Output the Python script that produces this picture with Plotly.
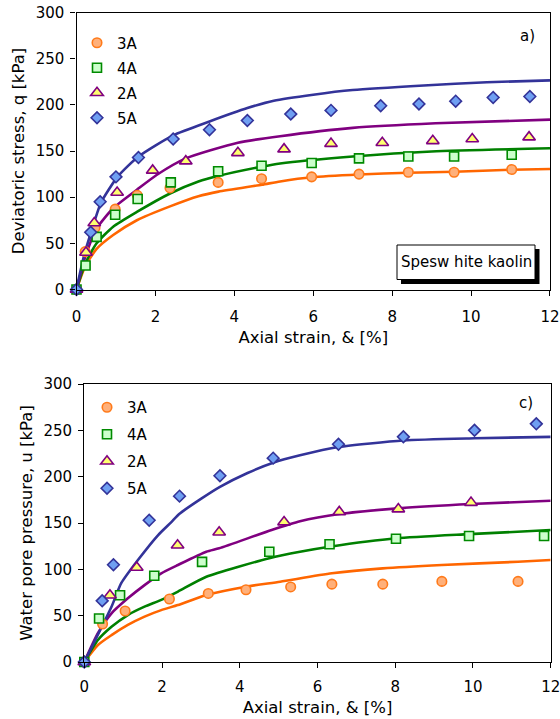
import plotly.graph_objects as go

W, H = 560, 719

# ---------------- Panel a) deviatoric stress ----------------
# fitted / test curves (lines)
qa_line_x_3A = [0, 0.22, 0.51, 0.93, 1.53, 2.37, 3.09, 3.6, 4.7, 5.16, 5.96, 7.16, 8.41, 9.57, 11.03, 12]
qa_line_y_3A = [0, 25, 44, 59, 75, 90, 101, 106, 113.5, 117, 121.5, 124.5, 126.5, 127.5, 129.7, 130.5]
qa_line_x_4A = [0, 0.22, 0.51, 0.93, 1.53, 2.37, 3.09, 3.59, 4.69, 5.16, 7.0, 9.0, 12]
qa_line_y_4A = [0, 28, 50, 68, 84, 104, 117, 123, 133, 136.5, 144, 149.5, 153]
qa_line_x_2A = [0, 0.22, 0.51, 0.93, 1.53, 2.03, 2.77, 4.09, 5.16, 7.0, 9.1, 12]
qa_line_y_2A = [0, 35, 66, 88, 108, 124, 142, 159, 166, 175, 180, 184]
qa_line_x_5A = [0, 0.1, 0.2, 0.37, 0.62, 1.04, 1.57, 2.45, 3.37, 4.33, 5.0, 6.0, 7.0, 8.8, 10.4, 12]
qa_line_y_5A = [0, 20, 38, 62, 94, 122, 144, 167, 182, 196.5, 204.5, 211, 216, 221, 224.5, 226.5]

# measured points (markers)
qa_pt_x_3A = [0, 0.22, 0.47, 0.98, 1.54, 2.37, 3.59, 4.69, 5.96, 7.16, 8.41, 9.57, 11.03]
qa_pt_y_3A = [0, 41, 67, 87, 102, 110, 116, 120, 122, 125, 127, 127, 130]
qa_pt_x_4A = [0, 0.23, 0.51, 0.98, 1.55, 2.39, 3.59, 4.69, 5.96, 7.16, 8.41, 9.57, 11.03]
qa_pt_y_4A = [0, 26, 57, 81, 98, 116, 128, 134, 137, 142, 144, 144, 146]
qa_pt_x_2A = [0, 0.24, 0.45, 1.03, 1.93, 2.77, 4.09, 5.26, 6.45, 7.75, 9.03, 10.03, 11.47]
qa_pt_y_2A = [0, 40, 72, 105, 129, 139, 148, 152, 158, 159, 161, 163, 165]
qa_pt_x_5A = [0, 0.36, 0.6, 1.0, 1.57, 2.45, 3.37, 4.33, 5.43, 6.45, 7.71, 8.68, 9.61, 10.56, 11.49]
qa_pt_y_5A = [0, 62, 95, 122, 143, 163, 173, 183, 190, 194, 199, 201, 204, 208, 209]

# ---------------- Panel c) pore pressure ----------------
uc_line_x_3A = [0, 0.35, 0.7, 1.12, 1.55, 1.98, 2.41, 3.14, 4.16, 5.04, 6.37, 7.68, 9.2, 11.16, 12]
uc_line_y_3A = [0, 18.3, 29, 40, 49, 56, 61.5, 72.3, 81.3, 86.7, 95.7, 101, 104.7, 108.2, 110]
uc_line_x_4A = [0, 0.35, 0.7, 1.12, 1.55, 1.98, 2.41, 3.14, 4.76, 5.55, 6.31, 8.02, 9.9, 12]
uc_line_y_4A = [0, 23.7, 38, 50.7, 59.7, 67, 76, 92, 112, 119, 124.4, 133.5, 138, 142.4]
uc_line_x_2A = [0, 0.35, 0.7, 1.12, 1.55, 1.98, 2.41, 3.14, 3.47, 4.82, 5.55, 6.56, 8.08, 9.95, 12]
uc_line_y_2A = [0, 31, 52.5, 68.7, 83, 95.7, 104.7, 119, 122.7, 142.5, 152, 159.7, 165.8, 170.5, 174]
uc_line_x_5A = [0, 0.7, 0.95, 1.38, 1.9, 2.24, 2.45, 3.0, 3.49, 4.2, 4.86, 5.55, 6.54, 8.21, 10.04, 12]
uc_line_y_5A = [0, 59.6, 85, 110, 137, 151, 160, 176, 189, 204, 215, 223, 232, 239, 241.4, 243]

uc_pt_x_3A = [0, 0.47, 1.05, 2.19, 3.19, 4.16, 5.31, 6.37, 7.68, 9.2, 11.16]
uc_pt_y_3A = [0, 41, 55, 68, 74, 78, 81, 84, 84, 87, 87]
uc_pt_x_4A = [0, 0.38, 0.92, 1.8, 3.03, 4.76, 6.31, 8.02, 9.9, 11.83]
uc_pt_y_4A = [0, 47, 72, 93, 108, 119, 127, 133, 136, 136]
uc_pt_x_2A = [0, 0.66, 1.35, 2.4, 3.47, 5.14, 6.56, 8.08, 9.95]
uc_pt_y_2A = [0, 72, 102, 126, 140, 151, 162, 165, 172]
uc_pt_x_5A = [0, 0.46, 0.75, 1.67, 2.45, 3.49, 4.86, 6.54, 8.21, 10.04, 11.63]
uc_pt_y_5A = [0, 66, 105, 153, 179, 201, 220, 235, 243, 250, 257]

series_names = ["3A", "4A", "2A", "5A"]
x_ticks = [0, 2, 4, 6, 8, 10, 12]
y_ticks = [0, 50, 100, 150, 200, 250, 300]

styles = {
    "3A": dict(symbol="circle", size=9.5, fill="#FFB07A", edge="#FF7A1A", line="#FF6600"),
    "4A": dict(symbol="square", size=9, fill="#CCFFCC", edge="#008A00", line="#008000"),
    "2A": dict(symbol="triangle-up", size=11, fill="#FFFF70", edge="#800080", line="#800080"),
    "5A": dict(symbol="diamond", size=9, fill="#6F9FF2", edge="#333399", line="#333399"),
}

top_lines = {"3A": (qa_line_x_3A, qa_line_y_3A), "4A": (qa_line_x_4A, qa_line_y_4A),
             "2A": (qa_line_x_2A, qa_line_y_2A), "5A": (qa_line_x_5A, qa_line_y_5A)}
top_pts = {"3A": (qa_pt_x_3A, qa_pt_y_3A), "4A": (qa_pt_x_4A, qa_pt_y_4A),
           "2A": (qa_pt_x_2A, qa_pt_y_2A), "5A": (qa_pt_x_5A, qa_pt_y_5A)}
bot_lines = {"3A": (uc_line_x_3A, uc_line_y_3A), "4A": (uc_line_x_4A, uc_line_y_4A),
             "2A": (uc_line_x_2A, uc_line_y_2A), "5A": (uc_line_x_5A, uc_line_y_5A)}
bot_pts = {"3A": (uc_pt_x_3A, uc_pt_y_3A), "4A": (uc_pt_x_4A, uc_pt_y_4A),
           "2A": (uc_pt_x_2A, uc_pt_y_2A), "5A": (uc_pt_x_5A, uc_pt_y_5A)}

FONT = "DejaVu Sans"
fig = go.Figure()

def add_panel(lines, pts, xa, ya, legend, tag):
    for n in series_names:
        s = styles[n]
        lx, ly = lines[n]
        fig.add_trace(go.Scatter(x=lx, y=ly, mode="lines", xaxis=xa, yaxis=ya,
                                 line=dict(color=s["line"], width=2.6, shape="spline", smoothing=0.6),
                                 showlegend=False, hoverinfo="skip"))
    for n in series_names:
        s = styles[n]
        px, py = pts[n]
        fig.add_trace(go.Scatter(x=px, y=py, mode="markers", name=n, xaxis=xa, yaxis=ya,
                                 legend=legend, legendgroup=tag + n, cliponaxis=False,
                                 marker=dict(symbol=s["symbol"], size=s["size"], color=s["fill"],
                                             line=dict(color=s["edge"], width=1.6))))

add_panel(top_lines, top_pts, "x", "y", "legend", "a")
add_panel(bot_lines, bot_pts, "x2", "y2", "legend2", "c")

def px2x(p):
    return p / W

def px2y(p):
    return 1 - p / H

axis_common = dict(range=[0, 12.0005], tickvals=x_ticks, ticks="outside", ticklen=5, tickwidth=1,
                   tickcolor="black", showline=True, linecolor="black", linewidth=1.3,
                   mirror=True, showgrid=False, zeroline=False, automargin=False,
                   ticklabeloverflow="allow",
                   tickfont=dict(family=FONT, size=15, color="black"))
yaxis_common = dict(range=[0, 300.01], tickvals=y_ticks, ticks="outside", ticklen=5, tickwidth=1,
                    tickcolor="black", showline=True, linecolor="black", linewidth=1.3,
                    mirror=True, showgrid=False, zeroline=False, automargin=False,
                    ticklabeloverflow="allow",
                    tickfont=dict(family=FONT, size=15, color="black"))

xtitle = "Axial strain, & [%]"
fig.update_layout(
    width=W, height=H, margin=dict(l=0, r=0, t=0, b=0),
    paper_bgcolor="white", plot_bgcolor="white",
    font=dict(family=FONT, color="black"),
    xaxis=dict(domain=[px2x(76.5), px2x(550)], anchor="y",
               title=dict(text=xtitle, font=dict(family=FONT, size=16.5), standoff=6),
               ticklabelstandoff=8, **axis_common),
    yaxis=dict(domain=[px2y(289.5), px2y(12.5)], anchor="x",
               title=dict(text="Deviatoric stress, q [kPa]", font=dict(family=FONT, size=16.5), standoff=6),
               ticklabelstandoff=3, **yaxis_common),
    xaxis2=dict(domain=[px2x(84.3), px2x(550.7)], anchor="y2",
                title=dict(text=xtitle, font=dict(family=FONT, size=16.5), standoff=6),
                ticklabelstandoff=6, **axis_common),
    yaxis2=dict(domain=[px2y(662), px2y(384)], anchor="x2",
                title=dict(text="Water pore pressure, u [kPa]", font=dict(family=FONT, size=16.5), standoff=6),
                ticklabelstandoff=3, **yaxis_common),
    legend=dict(x=px2x(77), y=px2y(26.5), xanchor="left", yanchor="top",
                bgcolor="rgba(0,0,0,0)", font=dict(family=FONT, size=15), tracegroupgap=2.5),
    legend2=dict(x=px2x(87), y=px2y(391), xanchor="left", yanchor="top",
                 bgcolor="rgba(0,0,0,0)", font=dict(family=FONT, size=15), tracegroupgap=4.5),
)

fig.add_annotation(text="a)", xref="paper", yref="paper", x=px2x(527), y=px2y(36),
                   xanchor="center", yanchor="middle",
                   showarrow=False, font=dict(family=FONT, size=15))
fig.add_annotation(text="c)", xref="paper", yref="paper", x=px2x(526), y=px2y(403),
                   xanchor="center", yanchor="middle",
                   showarrow=False, font=dict(family=FONT, size=15))

# text box with shadow
fig.add_shape(type="rect", xref="paper", yref="paper", x0=px2x(401), x1=px2x(539.5),
              y0=px2y(284), y1=px2y(249), fillcolor="black", line=dict(width=0), layer="above")
fig.add_shape(type="rect", xref="paper", yref="paper", x0=px2x(397), x1=px2x(535),
              y0=px2y(279.5), y1=px2y(245), fillcolor="white", line=dict(color="black", width=1),
              layer="above")
fig.add_annotation(text="Spesw hite kaolin", xref="paper", yref="paper", x=px2x(466), y=px2y(262),
                   xanchor="center", yanchor="middle",
                   showarrow=False, font=dict(family=FONT, size=15))

fig.write_html("out.html")
